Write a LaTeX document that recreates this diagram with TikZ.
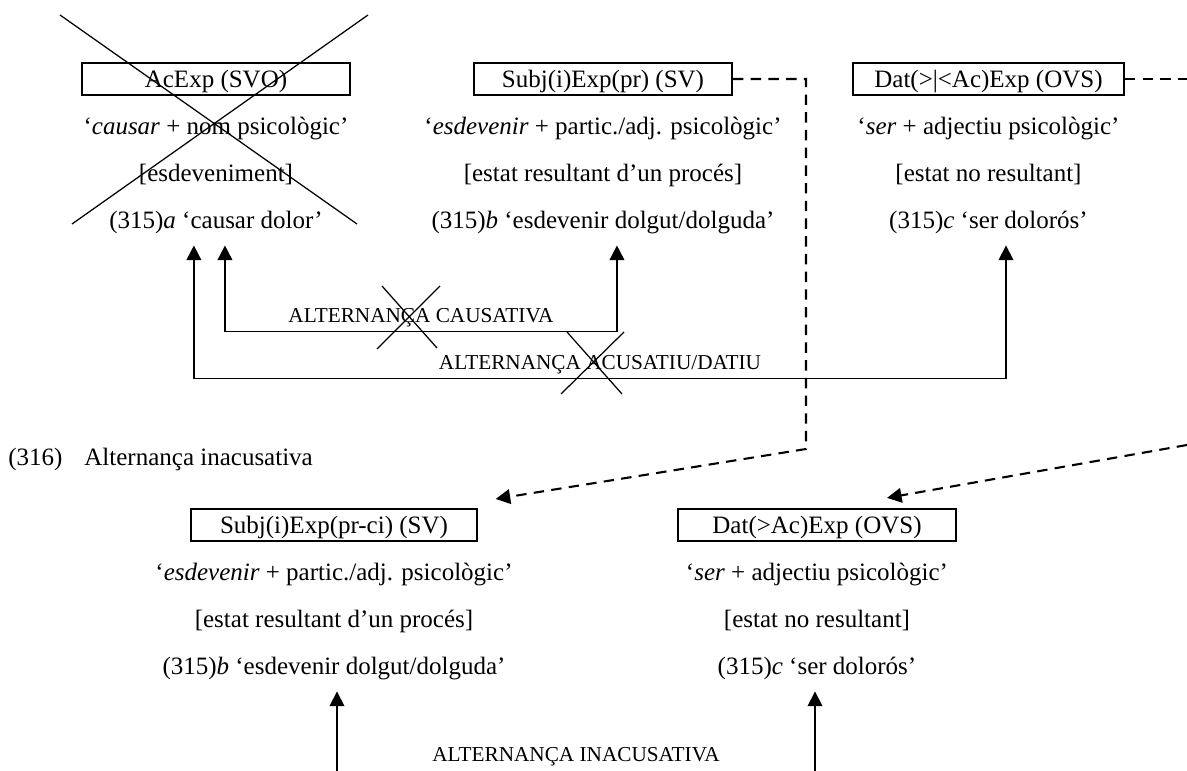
\documentclass[tikz,border=0pt]{standalone}
\usepackage{fontspec}
\setmainfont{Liberation Serif}
\usetikzlibrary{arrows.meta, positioning}
\tikzset{
  frame/.style={
    rectangle, draw=black, line width=1pt,
    minimum height=15.4pt, inner sep=0pt,
    text height=10pt, text depth=1.4pt,
    font=\fontsize{12}{14}\selectfont
  },
  gloss/.style={
    rectangle, inner sep=0pt, minimum height=22pt,
    text height=8.4pt, text depth=2.6pt,
    font=\fontsize{12}{14}\selectfont
  },
  lbl/.style={font=\fontsize{10.2}{12}\selectfont, inner sep=1pt, text height=7pt, text depth=2pt},
  link/.style={{Triangle[length=7pt,width=7pt]}-{Triangle[length=7pt,width=7pt]}, line width=0.8pt},
  uparrow/.style={-{Triangle[length=7pt,width=7pt]}, line width=0.8pt},
  dashline/.style={line width=1pt, dash pattern=on 5pt off 3.5pt},
  dasharrow/.style={dashline, -{Triangle[length=7pt,width=7pt]}},
  cross/.style={line width=0.6pt}
}

\begin{document}
\begin{tikzpicture}[x=0.48pt, y=-0.48pt, node distance=0pt]
  \useasboundingbox (0,0) rectangle (1187,771);

  \node[frame, minimum width=128.6pt] (acexp) at (216,79) {AcExp (SVO)};
  \node[gloss, below=4.5pt of acexp] (acexpA) {‘\textit{causar} + nom psicològic’};
  \node[gloss, below=of acexpA] (acexpB) {[esdeveniment]};
  \node[gloss, below=of acexpB] (acexpC) {(315)\textit{a} ‘causar dolor’};

  \node[frame, minimum width=123.8pt] (subjpr) at (603,79) {Subj(i)Exp(pr) (SV)};
  \node[gloss, below=4.5pt of subjpr] (subjprA) {‘\textit{esdevenir} + partic./adj. psicològic’};
  \node[gloss, below=of subjprA] (subjprB) {[estat resultant d’un procés]};
  \node[gloss, below=of subjprB] (subjprC) {(315)\textit{b} ‘esdevenir dolgut/dolguda’};

  \node[frame, minimum width=130pt] (datexp) at (988.5,79) {Dat(>|<Ac)Exp (OVS)};
  \node[gloss, below=4.5pt of datexp] (datexpA) {‘\textit{ser} + adjectiu psicològic’};
  \node[gloss, below=of datexpA] (datexpB) {[estat no resultant]};
  \node[gloss, below=of datexpB] (datexpC) {(315)\textit{c} ‘ser dolorós’};

  \node[gloss, anchor=base west] (title) at (8,466) {(316)\hspace{10.5pt}Alternança inacusativa};

  \node[frame, minimum width=137pt] (subjci) at (334,525) {Subj(i)Exp(pr-ci) (SV)};
  \node[gloss, below=4.5pt of subjci] (subjciA) {‘\textit{esdevenir} + partic./adj. psicològic’};
  \node[gloss, below=of subjciA] (subjciB) {[estat resultant d’un procés]};
  \node[gloss, below=of subjciB] (subjciC) {(315)\textit{b} ‘esdevenir dolgut/dolguda’};

  \node[frame, minimum width=133.4pt] (datac) at (817,525) {Dat(>Ac)Exp (OVS)};
  \node[gloss, below=4.5pt of datac] (datacA) {‘\textit{ser} + adjectiu psicològic’};
  \node[gloss, below=of datacA] (datacB) {[estat no resultant]};
  \node[gloss, below=of datacB] (datacC) {(315)\textit{c} ‘ser dolorós’};

  \draw[link] ([xshift=4.3pt]acexpC.south) -- ++(0,86)
    -| node[lbl, pos=0.25, above=0.8pt] {ALTERNANÇA CAUSATIVA} ([xshift=6.7pt]subjprC.south);
  \draw[link] ([xshift=-10.6pt]acexpC.south) -- ++(0,133)
    -| node[lbl, pos=0.25, above=0.8pt] {ALTERNANÇA ACUSATIU/DATIU} ([xshift=8.4pt]datexpC.south);

  \coordinate (bend) at (806,449);
  \coordinate (edgeT) at (1187,79);
  \coordinate (edgeB) at (1187,445);
  \draw[dasharrow] (subjpr.east) -| (bend) -- ([xshift=8.6pt,yshift=4.3pt]subjci.north east);
  \draw[dashline] (datexp.east) -- (edgeT);
  \draw[dasharrow] (edgeB) -- ([xshift=33.6pt,yshift=4.8pt]datac.north);

  \coordinate (footL) at (337,771);
  \coordinate (footR) at (815,771);
  \draw[uparrow] (footL) -- (footL |- subjciC.south);
  \draw[uparrow] (footR) -- (footR |- datacC.south);
  \node[lbl, anchor=base] (inac) at (576,762) {ALTERNANÇA INACUSATIVA};

  \draw[cross] (60,15) -- (357,224) (368,15) -- (72,224);
  \draw[cross] (382,286) -- (437,348) (440,286) -- (377,349);
  \draw[cross] (567,332) -- (622,394) (624,332) -- (561,394);
\end{tikzpicture}
\end{document}
